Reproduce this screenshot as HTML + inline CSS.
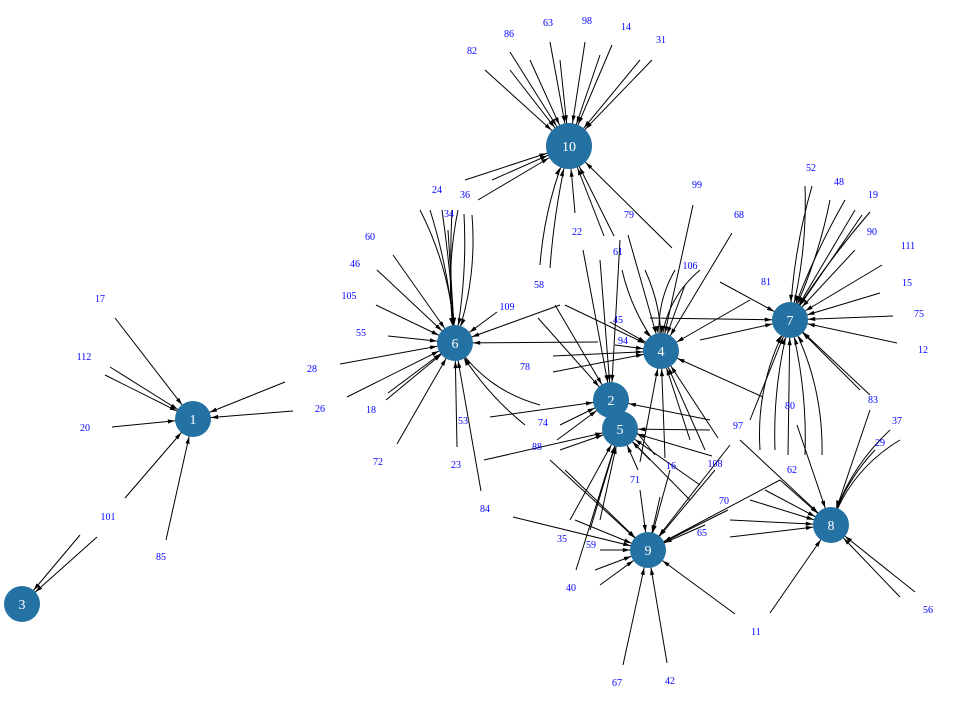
<!DOCTYPE html>
<html><head><meta charset="utf-8"><style>
html,body{margin:0;padding:0;background:#fff;}
svg{display:block}
.l{font-family:"Liberation Serif",serif;font-size:10px;fill:#0000ff;text-anchor:middle}
.n{font-family:"Liberation Serif",serif;font-size:14px;fill:#fff;text-anchor:middle}
</style></head><body>
<svg id="s" width="960" height="706" viewBox="0 0 960 706" xmlns="http://www.w3.org/2000/svg">
<defs>
<marker id="a" viewBox="0 0 10 6" markerWidth="7" markerHeight="4.2" refX="36" refY="3" orient="auto" markerUnits="userSpaceOnUse" style="overflow:visible"><path d="M0,0L10,3L0,6z" fill="#000"/></marker>
<marker id="b" viewBox="0 0 10 6" markerWidth="7" markerHeight="4.2" refX="44" refY="3" orient="auto" markerUnits="userSpaceOnUse" style="overflow:visible"><path d="M0,0L10,3L0,6z" fill="#000"/></marker>
</defs>
<g id="e" fill="none" stroke="#000" stroke-width="1"></g>
<g fill="#2471a3">
<circle cx="569" cy="146" r="23"/>
<circle cx="455" cy="343" r="18"/>
<circle cx="193" cy="419" r="18"/>
<circle cx="22" cy="604" r="18"/>
<circle cx="661" cy="351" r="18"/>
<circle cx="620" cy="429" r="18"/>
<circle cx="611" cy="400" r="18"/>
<circle cx="790" cy="320" r="18"/>
<circle cx="831" cy="525" r="18"/>
<circle cx="648" cy="550" r="18"/>
</g>
<g class="n">
<text x="569" y="151">10</text><text x="455" y="348">6</text><text x="193" y="424">1</text>
<text x="22" y="609">3</text><text x="661" y="356">4</text><text x="620" y="434">5</text>
<text x="611" y="405">2</text><text x="790" y="325">7</text><text x="831" y="530">8</text>
<text x="648" y="555">9</text>
</g>
<g class="l">
<text x="100" y="302">17</text><text x="84" y="360">112</text><text x="85" y="431">20</text>
<text x="108" y="520">101</text><text x="161" y="560">85</text><text x="312" y="372">28</text>
<text x="320" y="412">26</text><text x="370" y="240">60</text><text x="355" y="267">46</text>
<text x="349" y="299">105</text><text x="361" y="336">55</text><text x="371" y="413">18</text>
<text x="378" y="465">72</text><text x="456" y="468">23</text><text x="463" y="424">53</text>
<text x="485" y="512">84</text><text x="437" y="193">24</text><text x="465" y="198">36</text>
<text x="449" y="217">34</text><text x="507" y="310">109</text><text x="539" y="288">58</text>
<text x="525" y="370">78</text><text x="543" y="426">74</text><text x="537" y="450">88</text>
<text x="472" y="54">82</text><text x="509" y="37">86</text><text x="548" y="26">63</text>
<text x="587" y="24">98</text><text x="626" y="30">14</text><text x="661" y="43">31</text>
<text x="577" y="235">22</text><text x="629" y="218">79</text><text x="618" y="255">61</text>
<text x="697" y="188">99</text><text x="739" y="218">68</text><text x="690" y="269">106</text>
<text x="618" y="323">45</text><text x="623" y="344">94</text><text x="766" y="285">81</text>
<text x="811" y="171">52</text><text x="839" y="185">48</text><text x="873" y="198">19</text>
<text x="872" y="235">90</text><text x="908" y="249">111</text><text x="907" y="286">15</text>
<text x="919" y="317">75</text><text x="923" y="353">12</text><text x="790" y="409">80</text>
<text x="873" y="403">83</text><text x="897" y="424">37</text><text x="880" y="446">29</text>
<text x="738" y="429">97</text><text x="792" y="473">62</text><text x="671" y="469">16</text>
<text x="715" y="467">108</text><text x="635" y="483">71</text><text x="724" y="504">70</text>
<text x="702" y="536">65</text><text x="562" y="542">35</text><text x="591" y="548">59</text>
<text x="571" y="591">40</text><text x="617" y="686">67</text><text x="670" y="684">42</text>
<text x="756" y="635">11</text><text x="928" y="613">56</text>
</g>
</svg>
<script>
var H={1:[193,419],3:[22,604],6:[455,343],10:[569,146],4:[661,351],2:[611,400],5:[620,429],7:[790,320],8:[831,525],9:[648,550]};
var E=[
[115,318,1,0],[110,367,1,0],[105,375,1,0],[112,427,1,0],[125,498,1,0],[166,540,1,0],[285,382,1,0],[293,411,1,0],
[80,535,3,0],[97,537,3,0],
[393,255,6,0],[377,270,6,0],[376,305,6,0],[388,336,6,0],[388,393,6,0],[397,444,6,0],[457,447,6,0],[481,491,6,0],
[420,210,6,-15],[430,210,6,-8],[442,210,6,-3],[452,210,6,5],[458,210,6,12],[448,230,6,0],[464,214,6,-8],[472,215,6,-14],
[497,312,6,0],[340,364,6,0],[347,397,6,0],[540,405,6,-20],[525,425,6,-10],[598,342,6,0],[560,305,6,0],[386,400,6,0],
[485,70,10,0],[510,52,10,0],[510,70,10,0],[530,60,10,0],[550,42,10,0],[560,60,10,0],[585,42,10,0],[612,45,10,0],[600,55,10,0],[640,60,10,0],[652,60,10,0],
[478,200,10,0],[465,180,10,0],[492,180,10,0],[540,265,10,-10],[550,268,10,-5],[575,213,10,0],[614,236,10,0],[604,236,10,0],[672,248,10,0],
[693,205,4,0],[732,233,4,0],[685,285,4,0],[750,300,4,0],[610,322,4,0],[615,345,4,0],[553,372,4,0],[553,356,4,0],[565,305,4,0],[628,235,4,0],[622,270,4,10],[645,270,4,-10],[675,270,4,15],[700,270,4,20],
[665,458,4,0],[705,450,4,0],[718,438,4,0],[640,462,4,0],[690,440,4,0],[763,397,4,0],
[583,250,2,0],[490,417,2,0],[560,425,2,0],[557,440,2,0],[555,305,2,0],[538,318,2,0],[710,420,2,0],[655,455,2,0],[620,240,2,0],[600,260,2,0],
[484,460,5,0],[560,450,5,0],[570,520,5,0],[590,530,5,0],[576,570,5,0],[712,456,5,0],[710,430,5,0],[700,485,5,0],[690,500,5,0],[650,460,5,0],[638,470,5,0],[600,520,5,0],
[805,186,7,-10],[812,186,7,8],[830,200,7,-8],[845,200,7,6],[855,210,7,0],[862,215,7,0],[870,212,7,5],[855,250,7,0],[882,265,7,0],[880,293,7,0],[893,316,7,0],[897,343,7,0],
[720,282,7,0],[650,318,7,0],[700,340,7,0],
[760,450,7,-20],[775,450,7,-10],[788,455,7,0],[805,455,7,10],[822,455,7,18],[870,395,7,0],[860,390,7,0],[750,420,7,0],
[797,425,8,0],[870,410,8,0],[890,430,8,15],[900,440,8,20],[875,450,8,10],[780,480,8,0],[765,490,8,0],[730,520,8,0],[730,537,8,0],[750,500,8,0],[915,592,8,0],[900,597,8,0],[770,613,8,0],[740,440,8,0],
[575,520,9,0],[600,550,9,0],[595,570,9,0],[600,585,9,0],[623,665,9,0],[667,663,9,0],[735,614,9,0],[513,517,9,0],[550,460,9,0],[565,470,9,0],[705,525,9,0],[728,510,9,0],[715,470,9,0],[670,470,9,0],[640,490,9,0],[780,480,9,0],[730,445,9,0],[660,497,9,0]
];
var g=document.getElementById('e'),s='';
E.forEach(function(e){var h=H[e[2]],x1=e[0],y1=e[1],x2=h[0],y2=h[1],b=e[3],m=e[2]==10?'b':'a';
var mx=(x1+x2)/2,my=(y1+y2)/2,dx=x2-x1,dy=y2-y1,L=Math.sqrt(dx*dx+dy*dy)||1;
var cx=mx-dy/L*b,cy=my+dx/L*b;
s+='<path d="M'+x1+','+y1+' Q'+cx+','+cy+' '+x2+','+y2+'" marker-end="url(#'+m+')"/>';});
g.innerHTML=s;
</script>
</body></html>
